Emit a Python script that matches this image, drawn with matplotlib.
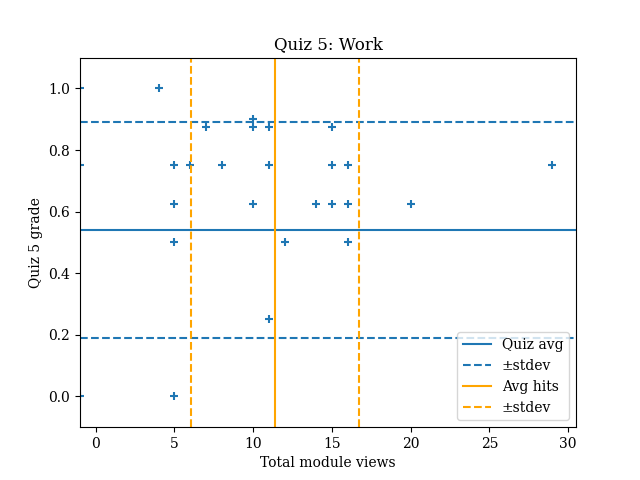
import matplotlib
matplotlib.use("Agg")
import matplotlib.pyplot as plt

plt.rcParams['font.family'] = 'DejaVu Serif'

# module views (-1 = no data) and quiz grade per student
views = [-1, -1, -1, 4, 5, 5, 5, 5, 6, 7, 8, 10, 10, 10, 11, 11, 11,
         12, 14, 15, 15, 15, 16, 16, 16, 20, 29]
grades = [1.0, 0.75, 0.0, 1.0, 0.75, 0.625, 0.5, 0.0, 0.75, 0.875, 0.75,
          0.9, 0.875, 0.625, 0.875, 0.75, 0.25, 0.5, 0.625, 0.875, 0.75,
          0.625, 0.75, 0.625, 0.5, 0.625, 0.75]

quiz_avg = 0.54
quiz_std = 0.35
hits_avg = 11.4
hits_std = 5.33

fig, ax = plt.subplots(figsize=(6.4, 4.8))
ax.scatter(views, grades, marker='+', color='tab:blue')
ax.axhline(quiz_avg, color='tab:blue', label='Quiz avg')
ax.axhline(quiz_avg + quiz_std, color='tab:blue', ls='--', label='±stdev')
ax.axhline(quiz_avg - quiz_std, color='tab:blue', ls='--')
ax.axvline(hits_avg, color='orange', label='Avg hits')
ax.axvline(hits_avg + hits_std, color='orange', ls='--', label='±stdev')
ax.axvline(hits_avg - hits_std, color='orange', ls='--')

ax.set_xlim(-1, 30.5)
ax.set_ylim(-0.1, 1.1)
ax.set_title('Quiz 5: Work')
ax.set_xlabel('Total module views')
ax.set_ylabel('Quiz 5 grade')
ax.legend(loc='lower right')

plt.savefig('out.png', dpi=100)
